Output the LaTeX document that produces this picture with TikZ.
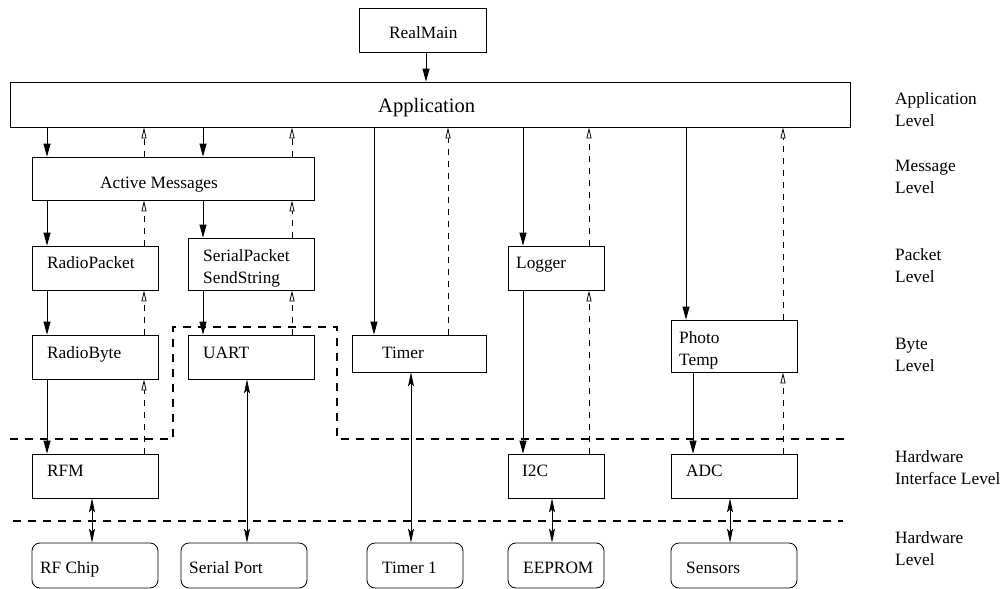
\documentclass[tikz,border=0pt]{standalone}
\usepackage{fontspec}
\setmainfont{Liberation Serif}
\usetikzlibrary{arrows.meta}
\begin{document}
\begin{tikzpicture}[x=1pt,y=-1pt,
  box/.style={draw,line width=0.8pt,rectangle,inner sep=0pt},
  hwbox/.style={box,rounded corners=8pt},
  txt/.style={inner sep=0pt,font=\fontsize{17.3}{22}\selectfont},
  bigtxt/.style={inner sep=0pt,font=\fontsize{20.5}{24}\selectfont},
  multi/.style={txt,align=left,anchor=west},
  call/.style={line width=0.8pt,-{Triangle[length=13pt,width=7pt]}},
  sig/.style={line width=0.8pt,dash pattern=on 6pt off 6pt,-{Triangle[open,length=11pt,width=5pt,fill=white]}},
  hw/.style={line width=0.8pt,{Stealth[length=14pt,width=6pt,inset=3pt]}-{Stealth[length=14pt,width=6pt,inset=3pt]}},
  sep/.style={line width=1.2pt,dash pattern=on 8pt off 7pt}]
\useasboundingbox (0,0) rectangle (1005,589);

% columns
\coordinate (cm) at (426,0);
\coordinate (c1) at (47,0);
\coordinate (c2) at (144,0);
\coordinate (c3) at (203,0);
\coordinate (c4) at (292,0);
\coordinate (c5) at (374,0);
\coordinate (c6) at (448,0);
\coordinate (c7) at (523,0);
\coordinate (c8) at (589,0);
\coordinate (c9) at (686,0);
\coordinate (c10) at (783,0);
\coordinate (c11) at (693,0);
\coordinate (h1) at (92,0);
\coordinate (h2) at (247,0);
\coordinate (h3) at (411,0);
\coordinate (h4) at (552,0);
\coordinate (h5) at (730,0);

% boxes
\node[box,minimum width=127pt,minimum height=44pt] (realmain) at (422.5,30) {};
\node[box,minimum width=840pt,minimum height=45pt] (app) at (430,104.5) {};
\node[box,minimum width=282pt,minimum height=43pt] (am) at (173,178.5) {};
\node[box,minimum width=126pt,minimum height=44pt] (rp) at (95,268) {};
\node[box,minimum width=126pt,minimum height=52pt] (sp) at (251,264) {};
\node[box,minimum width=96pt,minimum height=44pt] (logger) at (556,268) {};
\node[box,minimum width=126pt,minimum height=44pt] (rb) at (95,357) {};
\node[box,minimum width=126pt,minimum height=44pt] (uart) at (251,357) {};
\node[box,minimum width=134pt,minimum height=37pt] (timer) at (419,353.5) {};
\node[box,minimum width=126pt,minimum height=52pt] (photo) at (734,346) {};
\node[box,minimum width=126pt,minimum height=44pt] (rfm) at (95,476) {};
\node[box,minimum width=96pt,minimum height=44pt] (i2c) at (556,476) {};
\node[box,minimum width=126pt,minimum height=44pt] (adc) at (734,476) {};
\node[hwbox,minimum width=126pt,minimum height=45pt] (rfchip) at (95,565.5) {};
\node[hwbox,minimum width=126pt,minimum height=45pt] (serial) at (244,565.5) {};
\node[hwbox,minimum width=96pt,minimum height=45pt] (timer1) at (415,565.5) {};
\node[hwbox,minimum width=96pt,minimum height=45pt] (eeprom) at (556,565.5) {};
\node[hwbox,minimum width=126pt,minimum height=45pt] (sensors) at (734,565.5) {};

% box texts
\node[txt,anchor=base west] (trealmain) at (389,38) {RealMain};
\node[bigtxt,anchor=base west] (tapp) at (378,112) {Application};
\node[txt,anchor=base west] (tam) at (100,188) {Active Messages};
\node[txt,anchor=base west] (trp) at (47,268) {RadioPacket};
\node[multi] (tsp) at (203,268) {SerialPacket\\SendString};
\node[txt,anchor=base west] (tlogger) at (516,268) {Logger};
\node[txt,anchor=base west] (trb) at (47,358) {RadioByte};
\node[txt,anchor=base west] (tuart) at (203,358) {UART};
\node[txt,anchor=base west] (ttimer) at (382,358) {Timer};
\node[multi] (tphoto) at (679,350) {Photo\\Temp};
\node[txt,anchor=base west] (trfm) at (47,476) {RFM};
\node[txt,anchor=base west] (ti2c) at (522,476) {I2C};
\node[txt,anchor=base west] (tadc) at (686,476) {ADC};
\node[txt,anchor=base west] (trfchip) at (40,573) {RF Chip};
\node[txt,anchor=base west] (tserial) at (189,573) {Serial Port};
\node[txt,anchor=base west] (ttimer1) at (382,573) {Timer 1};
\node[txt,anchor=base west] (teeprom) at (523,573) {EEPROM};
\node[txt,anchor=base west] (tsensors) at (686,573) {Sensors};

% level labels
\node[multi] (l1) at (895,110) {Application\\Level};
\node[multi] (l2) at (895,177) {Message\\Level};
\node[multi] (l3) at (895,266) {Packet\\Level};
\node[multi] (l4) at (895,355) {Byte\\Level};
\node[multi] (l5) at (895,467.5) {Hardware\\Interface Level};
\node[multi] (l6) at (895,549) {Hardware\\Level};

% separators
\coordinate (s1) at (10,439);
\coordinate (s2) at (173,439);
\coordinate (s3) at (173,327);
\coordinate (s4) at (337,327);
\coordinate (s5) at (337,439);
\coordinate (s6) at (848,439);
\coordinate (s7) at (13,521);
\coordinate (s8) at (843,521);
\draw[sep] (s1) -- (s2) -- (s3) -- (s4) -- (s5) -- (s6);
\draw[sep] (s7) -- (s8);

% calls (solid, downward)
\draw[call] (realmain.south -| cm) -- (app.north -| cm);
\draw[call] (app.south -| c1) -- (am.north -| c1);
\draw[call] (app.south -| c3) -- (am.north -| c3);
\draw[call] (app.south -| c5) -- (timer.north -| c5);
\draw[call] (app.south -| c7) -- (logger.north -| c7);
\draw[call] (app.south -| c9) -- (photo.north -| c9);
\draw[call] (am.south -| c1) -- (rp.north -| c1);
\draw[call] (am.south -| c3) -- (sp.north -| c3);
\draw[call] (rp.south -| c1) -- (rb.north -| c1);
\draw[call] (sp.south -| c3) -- (uart.north -| c3);
\draw[call] (rb.south -| c1) -- (rfm.north -| c1);
\draw[call] (logger.south -| c7) -- (i2c.north -| c7);
\draw[call] (photo.south -| c11) -- (adc.north -| c11);

% signals (dashed, upward)
\draw[sig] (am.north -| c2) -- (app.south -| c2);
\draw[sig] (am.north -| c4) -- (app.south -| c4);
\draw[sig] (timer.north -| c6) -- (app.south -| c6);
\draw[sig] (logger.north -| c8) -- (app.south -| c8);
\draw[sig] (photo.north -| c10) -- (app.south -| c10);
\draw[sig] (rp.north -| c2) -- (am.south -| c2);
\draw[sig] (sp.north -| c4) -- (am.south -| c4);
\draw[sig] (rb.north -| c2) -- (rp.south -| c2);
\draw[sig] (uart.north -| c4) -- (sp.south -| c4);
\draw[sig] (rfm.north -| c2) -- (rb.south -| c2);
\draw[sig] (i2c.north -| c8) -- (logger.south -| c8);
\draw[sig] (adc.north -| c10) -- (photo.south -| c10);

% hardware links
\draw[hw] (rfm.south -| h1) -- (rfchip.north -| h1);
\draw[hw] (uart.south -| h2) -- (serial.north -| h2);
\draw[hw] (timer.south -| h3) -- (timer1.north -| h3);
\draw[hw] (i2c.south -| h4) -- (eeprom.north -| h4);
\draw[hw] (adc.south -| h5) -- (sensors.north -| h5);
\end{tikzpicture}
\end{document}
